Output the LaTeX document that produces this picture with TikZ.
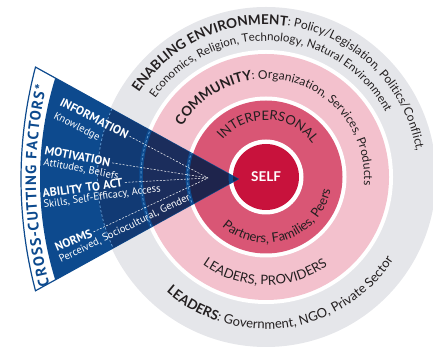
\documentclass[tikz,border=0pt]{standalone}
\usepackage{fontspec}
\setmainfont{Lato}
\newfontfamily\fanfont{PT Sans}
\usetikzlibrary{decorations.text}

\definecolor{greyring}{RGB}{229,230,234}
\definecolor{commpink}{RGB}{243,193,205}
\definecolor{interpink}{RGB}{217,86,117}
\definecolor{selfred}{RGB}{200,18,60}
\definecolor{fanblue}{RGB}{13,74,142}
\definecolor{fangrey}{RGB}{17,58,116}
\definecolor{fancomm}{RGB}{27,45,92}
\definecolor{faninter}{RGB}{30,36,76}
\definecolor{ink}{RGB}{35,31,32}
\definecolor{dashblue}{RGB}{95,155,212}

\newcommand\ringhead{\fontsize{13.5}{16}\selectfont\bfseries}
\newcommand\ringbody{\fontsize{12}{14}\selectfont\mdseries}
\newcommand\ringsmall{\fontsize{11.5}{13}\selectfont\mdseries}
\newcommand\ringlarge{\fontsize{13}{15}\selectfont\mdseries}

\tikzset{
  ringtext/.style={decorate, decoration={text along path, text={#1}, text align=center, text color=ink}},
  fantitle/.style={anchor=base west, text=white, inner sep=0pt, font=\fanfont\bfseries\fontsize{12}{14}\selectfont},
  fansub/.style={anchor=base west, text=white, inner sep=0pt, font=\fanfont\fontsize{10.5}{12}\selectfont},
  leader/.style={white, line width=0.5pt, dash pattern=on 2pt off 1.5pt, shorten <=2pt},
  ringedge/.style={dashblue, line width=0.8pt, dash pattern=on 2.5pt off 2pt}
}

\begin{document}
\begin{tikzpicture}[x=1pt,y=1pt]
  \useasboundingbox (0,0) rectangle (433,350);
  \coordinate (c) at (266,173);

  % Rings
  \fill[greyring] (c) circle[radius=170];
  \fill[white] (c) circle[radius=127];
  \fill[commpink] (c) circle[radius=123];
  \fill[white] (c) circle[radius=80.5];
  \fill[interpink] (c) circle[radius=76.5];
  \fill[white] (c) circle[radius=37.5];
  \fill[selfred] (c) circle[radius=33];
  \node[text=white, font=\bfseries\fontsize{13.5}{15}\selectfont] (self) at (c) {SELF};

  % Ring labels
  \path[ringtext={|\ringhead|ENABLING ENVIRONMENT|\ringbody|: Policy/Legislation, Politics/Conflict,}]
    (c) ++(170:152.5) arc[start angle=170, end angle=-14, radius=152.5];
  \path[ringtext={|\ringsmall|Economics, Religion, Technology, Natural Environment}]
    (c) ++(176.5:136) arc[start angle=176.5, end angle=-3.5, radius=136];
  \path[ringtext={|\ringhead|LEADERS|\ringlarge|: Government, NGO, Private Sector}]
    (c) ++(208:152) arc[start angle=208, end angle=348, radius=152];
  \path[ringtext={|\ringhead|COMMUNITY|\ringbody|: Organization, Services, Products}]
    (c) ++(162:98) arc[start angle=162, end angle=-18, radius=98];
  \path[ringtext={|\ringlarge|LEADERS, PROVIDERS}]
    (c) ++(199.5:108) arc[start angle=199.5, end angle=339.5, radius=108];
  \path[ringtext={|\ringlarge|INTERPERSONAL}]
    (c) ++(167.5:57) arc[start angle=167.5, end angle=7.5, radius=57];
  \path[ringtext={|\ringlarge|Partners, Families, Peers}]
    (c) ++(218.5:66) arc[start angle=218.5, end angle=358.5, radius=66];

  % Fan
  \coordinate (tip) at (238,171);
  \coordinate (fantop) at (35.5,282.9);
  \coordinate (hub) at (460,171);
  \coordinate (innerhub) at (380,171);
  \fill[white, draw=fanblue, line width=1.2pt]
    (tip) -- (fantop) arc[start angle=165.24, end angle=194.76, radius=439] -- cycle;
  \begin{scope}
    \clip (tip) -- (fantop) arc[start angle=165.24, end angle=194.76, radius=439] -- cycle;
    \fill[fanblue] (innerhub) circle[radius=340];
    \fill[fangrey, even odd rule] (c) circle[radius=169] circle[radius=127];
    \fill[fancomm, even odd rule] (c) circle[radius=123] circle[radius=80.5];
    \fill[faninter, even odd rule] (c) circle[radius=76.5] circle[radius=37.5];
    \fill[faninter] (c) circle[radius=33];
    \draw[ringedge] (c) circle[radius=168.5];
    \draw[ringedge] (c) circle[radius=125];
    \draw[ringedge] (c) circle[radius=78.5];
  \end{scope}
  \path[decorate, decoration={text along path, text align=fit to path, text color=fanblue,
      text={|\fanfont\bfseries\fontsize{15}{17}\selectfont|CROSS-CUTTING FACTORS*}}]
    (hub) ++(194.5:424) arc[start angle=194.5, end angle=167.3, radius=424];

  % Fan labels
  \node[fantitle, rotate=-27] (info) at (59,245) {INFORMATION};
  \node[fansub, rotate=-27] (know) at (53,232) {Knowledge};
  \node[fantitle, rotate=-11] (moti) at (44,196) {MOTIVATION};
  \node[fansub, rotate=-11] (atti) at (43,185) {Attitudes, Beliefs};
  \node[fantitle, rotate=8] (abil) at (43,152) {ABILITY TO ACT};
  \node[fansub, rotate=8] (skil) at (44,142) {Skills, Self-Efficacy, Access};
  \node[fantitle, rotate=23] (norm) at (57,98) {NORMS};
  \node[fansub, rotate=26] (perc) at (61,87) {Perceived, Sociocultural, Gender};

  % Leaders to the self
  \coordinate (conv) at (208,172);
  \draw[leader] (info.east) -- (conv);
  \draw[leader] (moti.east) -- (conv);
  \draw[leader] (abil.east) -- (conv);
  \draw[leader] (norm.east) -- (conv);
\end{tikzpicture}
\end{document}
